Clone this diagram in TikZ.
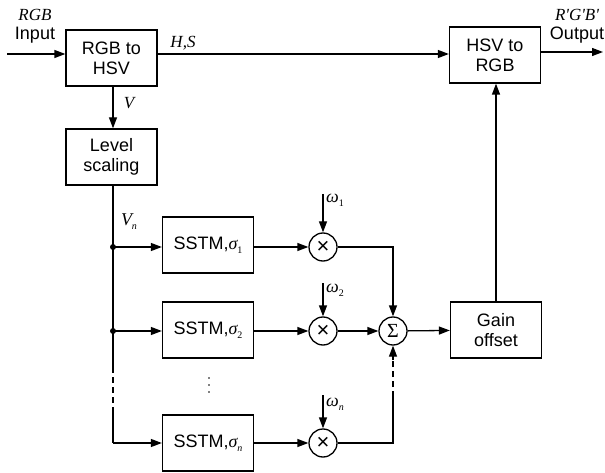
\documentclass[tikz,border=0pt]{standalone}
\usepackage{fontspec}
\setmainfont{Liberation Sans}
\newfontfamily\serif{Liberation Serif}
\usetikzlibrary{arrows.meta,calc}
\newcommand\gsym[2]{{\serif\itshape #1}\raisebox{-0.4ex}{\serif\fontsize{10}{10}\selectfont #2}}
\begin{document}
\begin{tikzpicture}[x=1pt,y=-1pt,
  every node/.style={font=\fontsize{18}{20}\selectfont},
  blk/.style={draw,line width=1.3pt,minimum width=91pt,minimum height=56pt,align=center,inner sep=0pt},
  opc/.style={draw,circle,line width=1.3pt,minimum size=28pt,inner sep=0pt},
  ln/.style={line width=1.3pt},
  arr/.style={line width=1.3pt,-{Triangle[length=11pt,width=8pt]}},
  lab/.style={inner sep=0pt,font=\serif\itshape\fontsize{17}{18}\selectfont},
  dot/.style={circle,fill,inner sep=0pt,minimum size=6pt}]
\useasboundingbox (0,0) rectangle (605,473);
% blocks
\node[blk] (rgb) at (111.5,58) {RGB to\\HSV};
\node[blk] (lev) at (111.5,157) {Level\\scaling};
\node[blk] (hsv) at (495,55) {HSV to\\RGB};
\node[blk] (gain) at (496,330) {Gain\\offset};
\node[blk] (s1) at (208,245) {SSTM,\gsym{σ}{1}};
\node[blk] (s2) at (208,330) {SSTM,\gsym{σ}{2}};
\node[blk] (sn) at (208,443) {SSTM,\gsym{σ}{\itshape n}};
\node[opc] (m1) at (323,247) {\fontsize{22}{22}\selectfont ×};
\node[opc] (m2) at (323,331) {\fontsize{22}{22}\selectfont ×};
\node[opc] (mn) at (323,443) {\fontsize{22}{22}\selectfont ×};
\node[opc] (sum) at (393,331) {\serif\fontsize{20}{20}\selectfont Σ};
% coordinates
\coordinate (in) at (7,54);
\coordinate (out) at (603,52);
\coordinate (d1) at (113,247);
\coordinate (d2) at (113,331);
\coordinate (ds) at (113,367);
\coordinate (de) at (113,407);
\coordinate (dn) at (113,443);
\coordinate (w1) at (323,194);
\coordinate (w2) at (323,283);
\coordinate (wn) at (323,395);
\coordinate (c1) at (393,247);
\coordinate (cs) at (393,360);
\coordinate (ce) at (393,397);
\coordinate (cn) at (393,443);
% main path
\draw[arr] (in) -- (rgb.west |- in);
\draw[arr] (rgb.east |- in) -- (hsv.west |- in);
\draw[arr] (hsv.east |- out) -- (out);
\draw[arr] (rgb.south -| d1) -- (lev.north -| d1);
\draw[ln] (lev.south -| d1) -- (ds);
\draw[ln,dash pattern=on 6pt off 4pt] (ds) -- (de);
\draw[ln] (de) -- (dn);
\draw[arr] (dn) -- (sn.west |- dn);
\node[dot] at (d1) {};
\node[dot] at (d2) {};
\draw[arr] (d1) -- (s1.west |- d1);
\draw[arr] (d2) -- (s2.west |- d2);
\draw[arr] (s1.east |- m1) -- (m1);
\draw[arr] (s2.east |- m2) -- (m2);
\draw[arr] (sn.east |- mn) -- (mn);
\draw[arr] (w1) -- (m1);
\draw[arr] (w2) -- (m2);
\draw[arr] (wn) -- (mn);
\draw[arr] (m1) -- (c1) -- (sum);
\draw[arr] (m2) -- (sum);
\draw[ln] (mn) -- (cn) -- (ce);
\draw[ln,dash pattern=on 6pt off 4pt] (ce) -- (cs);
\draw[arr] (cs) -- (sum);
\draw[arr] (sum) -- (gain);
\draw[arr] (gain.north) -- (hsv.south -| gain.north);
% labels
\node[lab] (lrgb) at (35,15) {RGB};
\node[inner sep=0pt] (linp) at (35,35) {Input};
\node[lab] (lhs) at (183,43) {H,S};
\node[lab] (lv) at (129,103) {V};
\node[inner sep=0pt] (lvn) at (129,222) {\gsym{V}{\itshape n}};
\node[lab] (lout) at (577,15) {R'G'B'};
\node[inner sep=0pt] (loutp) at (577,35) {Output};
\node[inner sep=0pt,anchor=west] (lw1) at (326,200) {\gsym{ω}{1}};
\node[inner sep=0pt,anchor=west] (lw2) at (326,290) {\gsym{ω}{2}};
\node[inner sep=0pt,anchor=west] (lwn) at (326,404) {\gsym{ω}{\itshape n}};
\foreach \yy in {378,385,392} \fill (209,\yy) circle (0.8pt);
\end{tikzpicture}
\end{document}
